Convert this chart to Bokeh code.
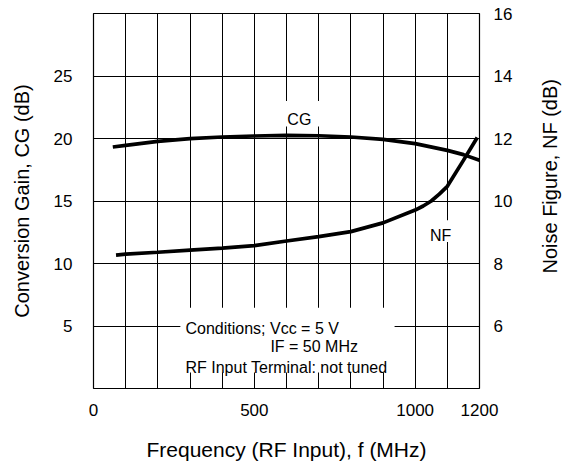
from math import pi
from bokeh.plotting import figure
from bokeh.layouts import row
from bokeh.models import Range1d, LinearAxis, FixedTicker, Label, BoxAnnotation
from bokeh.core.properties import value
from bokeh.embed import file_html
from bokeh.resources import INLINE

# ---- data ----
cg_freq = [60, 100, 200, 300, 400, 500, 600, 700, 800, 900, 1000, 1100, 1150, 1200]
cg_db = [19.32, 19.45, 19.77, 19.99, 20.12, 20.2, 20.25, 20.22, 20.12, 19.93, 19.59, 19.05, 18.71, 18.26]

nf_freq = [70, 100, 200, 300, 400, 500, 600, 700, 800, 900, 1000, 1025, 1050, 1075, 1100, 1150, 1193]
nf_db = [8.27, 8.30, 8.36, 8.43, 8.49, 8.57, 8.72, 8.86, 9.02, 9.30, 9.71, 9.84, 10.0, 10.22, 10.47, 11.3, 12.03]

x_ticks = [0, 500, 1000, 1200]
x_grid_ticks = [100, 200, 300, 400, 500, 600, 700, 800, 900, 1000, 1100]
cg_ticks = [5, 10, 15, 20, 25]
nf_ticks = [6, 8, 10, 12, 14, 16]

conditions = ["Conditions; Vcc = 5 V", "IF = 50 MHz", "RF Input Terminal: not tuned"]
right_title = ["Noise Figure, NF (dB)"]

FONT = "Liberation Sans"

p = figure(width=531, height=463, output_backend="svg", toolbar_location=None,
           x_range=Range1d(0, 1200), y_range=Range1d(0, 30),
           min_border_left=93, min_border_right=52, min_border_top=13, min_border_bottom=74)
p.extra_y_ranges = {"nf": Range1d(4, 16)}

p.background_fill_color = "white"
p.border_fill_color = "white"
p.outline_line_color = "black"
p.outline_line_width = 1.2
p.outline_line_alpha = 1

# grid
p.xgrid.ticker = FixedTicker(ticks=x_grid_ticks)
p.ygrid.ticker = FixedTicker(ticks=cg_ticks)
for g in (p.xgrid, p.ygrid):
    g.grid_line_color = "black"
    g.grid_line_width = 1
    g.grid_line_alpha = 1

# axes
def style_axis(ax, standoff, label_size="20px"):
    ax.axis_line_color = None
    ax.major_tick_line_color = None
    ax.minor_tick_line_color = None
    ax.major_tick_in = 0
    ax.major_tick_out = 0
    ax.minor_tick_in = 0
    ax.minor_tick_out = 0
    ax.major_label_text_font = FONT
    ax.major_label_text_font_size = "17px"
    ax.major_label_text_color = "black"
    ax.major_label_standoff = standoff
    ax.axis_label_text_font = FONT
    ax.axis_label_text_font_size = label_size
    ax.axis_label_text_font_style = "normal"
    ax.axis_label_text_color = "black"

xa = p.xaxis[0]
xa.ticker = FixedTicker(ticks=x_ticks)
xa.axis_label = "Frequency (RF Input), f (MHz)"
style_axis(xa, 15, "21px")
xa.axis_label_standoff = 19

ya = p.yaxis[0]
ya.ticker = FixedTicker(ticks=cg_ticks)
ya.axis_label = "Conversion Gain, CG (dB)"
style_axis(ya, 21)
ya.axis_label_standoff = 18

ra = LinearAxis(y_range_name="nf", ticker=FixedTicker(ticks=nf_ticks))
style_axis(ra, 14)
p.add_layout(ra, "right")

# white boxes cutting the grid behind the annotations
p.add_layout(BoxAnnotation(left=270, right=936, bottom=1.28, top=6.46,
                           fill_color="white", fill_alpha=1, line_color=None))
p.add_layout(BoxAnnotation(left=585, right=712, bottom=20.97, top=23.0,
                           fill_color="white", fill_alpha=1, line_color=None))
p.add_layout(BoxAnnotation(left=1042, right=1116, bottom=11.72, top=13.47,
                           fill_color="white", fill_alpha=1, line_color=None))

# curves
p.line(cg_freq, cg_db, line_color="black", line_width=3.7)
p.line(nf_freq, nf_db, line_color="black", line_width=3.7, y_range_name="nf")

def add_label(x, y, text, align="left", size="16px"):
    p.add_layout(Label(x=x, y=y, text=text, text_font=FONT, text_font_size=size,
                       text_color="black", text_align=align, text_baseline="alphabetic"))

add_label(640, 21.5, "CG", align="center")
add_label(1079, 12.28, "NF", align="center")
add_label(286, 4.84, conditions[0])
add_label(550, 3.37, conditions[1])
add_label(286, 1.67, conditions[2])

# narrow strip on the right carrying the right-axis title (reads bottom-to-top)
q = figure(width=43, height=463, output_backend="svg", toolbar_location=None,
           x_range=Range1d(0, 43), y_range=Range1d(0, 463),
           min_border=0, min_border_left=0, min_border_right=0,
           min_border_top=0, min_border_bottom=0)
q.axis.visible = False
q.grid.visible = False
q.outline_line_color = None
q.background_fill_color = "white"
q.border_fill_color = "white"
q.text(x=[18], y=[262], text=right_title, angle=pi / 2,
       text_font=value(FONT), text_font_size="20px", text_color="black",
       text_align="center", text_baseline="alphabetic")

layout = row(p, q, spacing=0)
open("out.html", "w").write(file_html(layout, INLINE))
